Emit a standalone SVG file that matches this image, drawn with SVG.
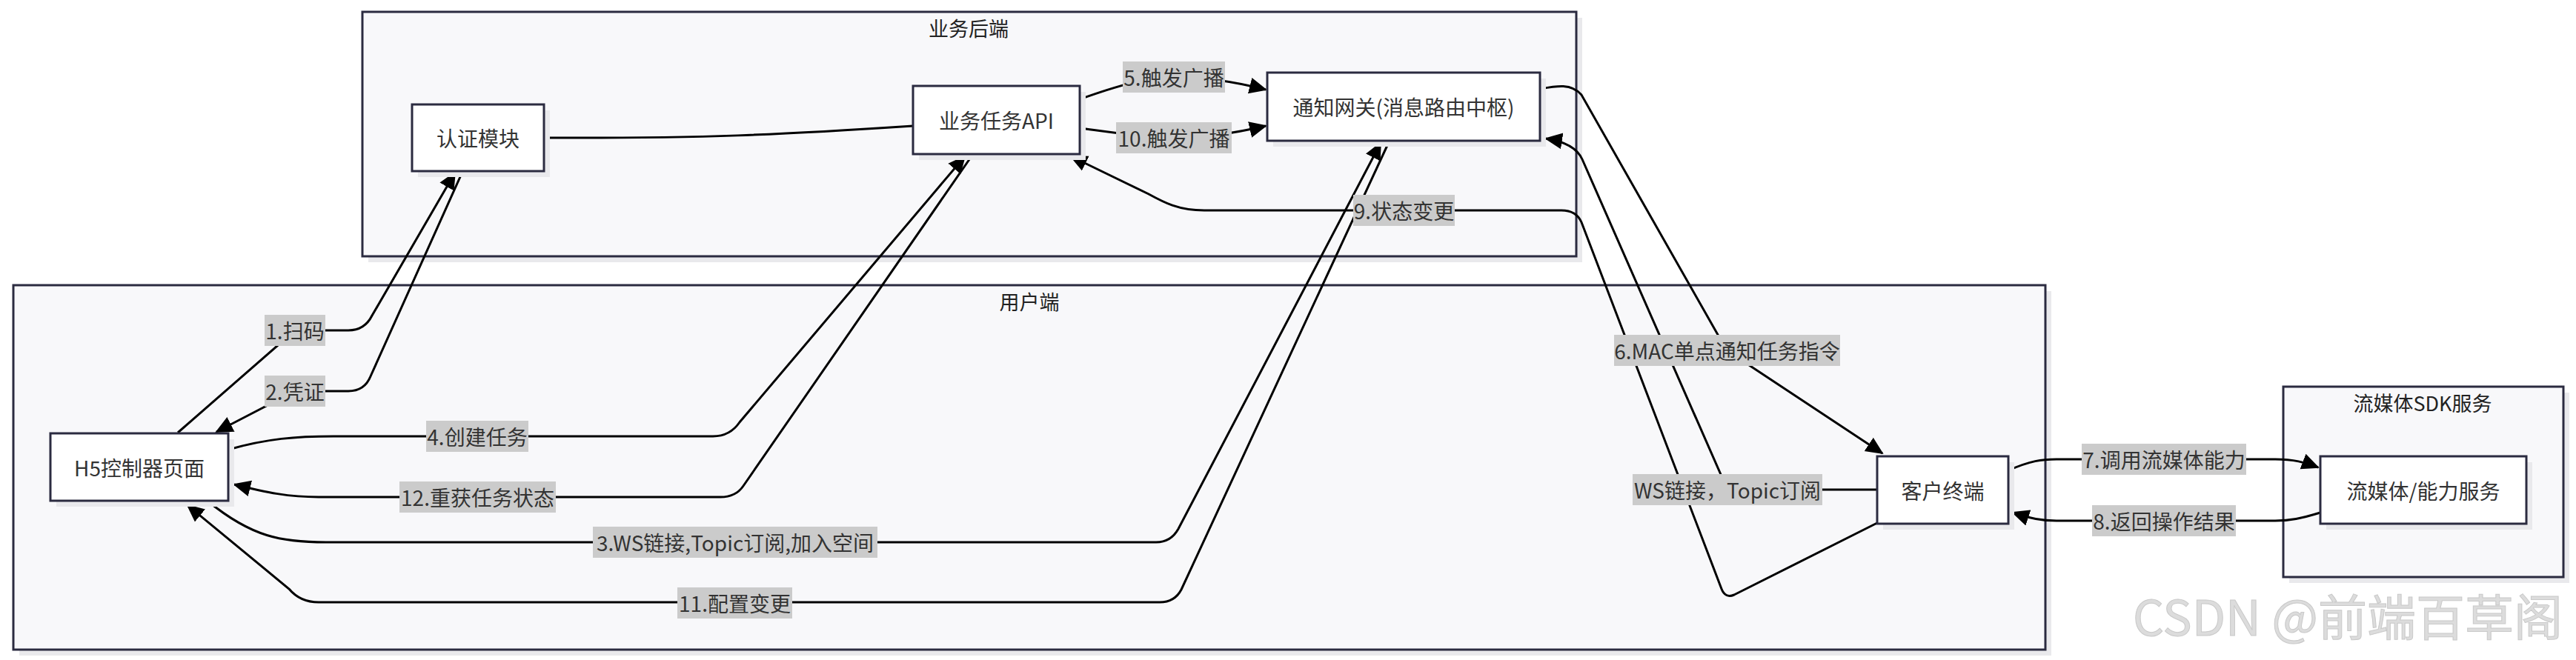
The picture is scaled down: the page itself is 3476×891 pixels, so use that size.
<svg xmlns="http://www.w3.org/2000/svg" width="3476" height="891" viewBox="0 0 3476 891">
<defs>
<style>
.cl{fill:#f8f8fa;stroke:#2b2b40;stroke-width:3}
.sh{fill:#e9e9ec}
.nd{fill:#ffffff;stroke:#2b2b40;stroke-width:3}
.t{font-family:"Noto Sans CJK SC","Noto Sans",sans-serif;font-size:28px;fill:#333;text-anchor:middle;dominant-baseline:central}
.ct{font-family:"Noto Sans CJK SC","Noto Sans",sans-serif;font-size:27px;fill:#222;text-anchor:middle;dominant-baseline:central}
.e{fill:none;stroke:#000;stroke-width:3}
.a{marker-end:url(#arr)}
.lb{fill:#cbcbcb}
.wm{font-family:"Noto Sans CJK SC","Noto Sans",sans-serif;font-size:66px;fill:#dcdcdc;stroke:#c9c9c9;stroke-width:1}
</style>
<marker id="arr" markerUnits="userSpaceOnUse" markerWidth="24" markerHeight="24" viewBox="0 0 24 24" refX="22" refY="12" orient="auto">
<path d="M0,1 L24,12 L0,23 z" fill="#000"/>
</marker>
</defs>
<rect width="3476" height="891" fill="#ffffff"/>

<g id="cluster-backend">
<rect class="sh" x="497" y="24" width="1638" height="330"/>
<rect class="cl" x="489" y="16" width="1638" height="330"/>
<text class="ct" x="1307" y="37">业务后端</text>
</g>
<g id="cluster-user">
<rect class="sh" x="26" y="393" width="2742" height="492"/>
<rect class="cl" x="18" y="385" width="2742" height="492"/>
<text class="ct" x="1389" y="406">用户端</text>
</g>
<g id="cluster-sdk">
<rect class="sh" x="3089" y="530" width="378" height="257"/>
<rect class="cl" x="3081" y="522" width="378" height="257"/>
<text class="ct" x="3269" y="543">流媒体SDK服务</text>
</g>

<g id="connectors">
<path class="e" d="M734,186 C950,187 1050,182 1232,170"/>
<path class="e a" d="M240,584 L398,446 L470,446 Q492,446 502,426 L614,233"/>
<path class="e a" d="M624,232 L500,508 Q492,528 470,528 L398,528 L292,583"/>
<path class="e a" d="M308,607 C360,592 400,589 450,589 L962,589 Q985,589 998,570 L1302,211"/>
<path class="e a" d="M1313,208 L1003,656 Q993,671 972,671 L430,671 C390,671 360,665 316,654"/>
<path class="e a" d="M281,677 C340,725 380,732 440,732 L1560,732 Q1580,732 1590,714 L1863,193"/>
<path class="e a" d="M1874,192 L1594,796 Q1585,813 1565,813 L430,813 Q405,813 390,795 L253,682"/>
<path class="e a" d="M1457,134 C1510,115 1550,104 1584,104 C1625,104 1665,110 1708,121"/>
<path class="e a" d="M1457,173 C1510,180 1550,186 1584,186 C1625,186 1665,180 1708,170"/>
<path class="e a" d="M2078,120 C2100,116 2120,112 2134,128 L2330,473 L2540,612"/>
<path class="e a" d="M2533,661 L2331,661 L2135,215 Q2125,193 2086,187"/>
<path class="e a" d="M2533,706 L2340,803 Q2328,808 2323,795 L2134,300 Q2127,284 2107,284 L1625,284 C1590,284 1570,273 1550,262 L1445,211"/>
<path class="e a" d="M2710,635 C2740,622 2755,620 2775,620 L3070,620 C3095,620 3110,624 3128,631"/>
<path class="e a" d="M3131,692 C3105,700 3090,703 3070,703 L2775,703 C2755,703 2740,700 2716,692"/>
</g>

<g id="edge-labels">
<rect class="lb" x="357" y="425" width="82" height="42"/><text class="t" x="398" y="446">1.扫码</text>
<rect class="lb" x="357" y="507" width="82" height="42"/><text class="t" x="398" y="528">2.凭证</text>
<rect class="lb" x="575" y="568" width="138" height="42"/><text class="t" x="644" y="589">4.创建任务</text>
<rect class="lb" x="539" y="650" width="211" height="42"/><text class="t" x="644.5" y="671">12.重获任务状态</text>
<rect class="lb" x="800" y="711" width="384" height="42"/><text class="t" x="992" y="732">3.WS链接,Topic订阅,加入空间</text>
<rect class="lb" x="914" y="793" width="155" height="42"/><text class="t" x="991.5" y="814">11.配置变更</text>
<rect class="lb" x="1515" y="83" width="138" height="42"/><text class="t" x="1584" y="104">5.触发广播</text>
<rect class="lb" x="1506" y="165" width="156" height="42"/><text class="t" x="1584" y="186">10.触发广播</text>
<rect class="lb" x="1826" y="263" width="137" height="42"/><text class="t" x="1894.5" y="284">9.状态变更</text>
<rect class="lb" x="2178" y="452" width="305" height="42"/><text class="t" x="2330.5" y="473">6.MAC单点通知任务指令</text>
<rect class="lb" x="2203" y="640" width="256" height="42"/><text class="t" x="2331" y="661">WS链接，Topic订阅</text>
<rect class="lb" x="2809" y="599" width="222" height="42"/><text class="t" x="2920" y="620">7.调用流媒体能力</text>
<rect class="lb" x="2823" y="682" width="194" height="42"/><text class="t" x="2920" y="703">8.返回操作结果</text>
</g>

<g id="node-auth">
<rect class="sh" x="564" y="149" width="178" height="90"/>
<rect class="nd" x="556" y="141" width="178" height="90"/>
<text class="t" x="645" y="186">认证模块</text>
</g>
<g id="node-api">
<rect class="sh" x="1240" y="124" width="225" height="92"/>
<rect class="nd" x="1232" y="116" width="225" height="92"/>
<text class="t" x="1344.5" y="162">业务任务API</text>
</g>
<g id="node-gateway">
<rect class="sh" x="1718" y="106" width="368" height="92"/>
<rect class="nd" x="1710" y="98" width="368" height="92"/>
<text class="t" x="1894" y="144">通知网关(消息路由中枢)</text>
</g>
<g id="node-h5">
<rect class="sh" x="76" y="593" width="240" height="91"/>
<rect class="nd" x="68" y="585" width="240" height="91"/>
<text class="t" x="188" y="630.5">H5控制器页面</text>
</g>
<g id="node-client">
<rect class="sh" x="2541" y="624" width="177" height="91"/>
<rect class="nd" x="2533" y="616" width="177" height="91"/>
<text class="t" x="2621.5" y="661.5">客户终端</text>
</g>
<g id="node-media">
<rect class="sh" x="3139" y="624" width="278" height="91"/>
<rect class="nd" x="3131" y="616" width="278" height="91"/>
<text class="t" x="3270" y="661.5">流媒体/能力服务</text>
</g>

<text class="wm" x="2878" y="858">CSDN @前端百草阁</text>
</svg>
